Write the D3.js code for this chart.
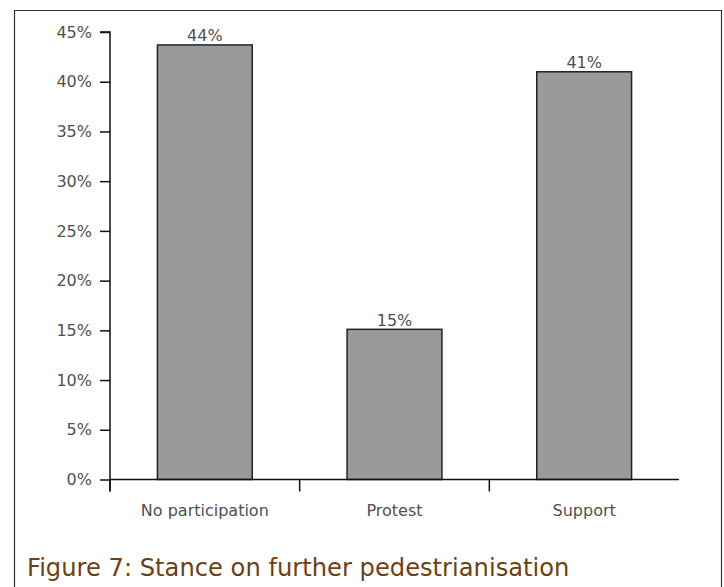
<!DOCTYPE html>
<html>
<head>
<meta charset="utf-8">
<script src="https://cdn.jsdelivr.net/npm/d3@7"></script>
<style>
  html, body { margin: 0; padding: 0; background: #fff; }
  svg { display: block; }
</style>
</head>
<body>
<script>
// Survey answers: stance on further pedestrianisation (share of respondents, %)
const categories = ["No participation", "Protest", "Support"];
const shares = [43.7, 15.1, 41.0];
const yTicks = [0, 5, 10, 15, 20, 25, 30, 35, 40, 45];
const caption = "Figure 7: Stance on further pedestrianisation";

const W = 724, H = 587;
const svg = d3.select("body").append("svg").attr("width", W).attr("height", H);

// outer frame (open at the bottom edge of the page)
svg.append("path")
  .attr("d", `M14.5,${H + 2} V10.5 H721.5 V${H + 2}`)
  .attr("fill", "none").attr("stroke", "#333").attr("stroke-width", 1.2);

const x = d3.scaleBand().domain(categories).range([110, 679]).paddingInner(0).paddingOuter(0);
const y = d3.scaleLinear().domain([0, 45]).range([479.5, 32]);

const labelFont = "'DejaVu Sans', Verdana, sans-serif";
const labelSize = "16px";
const textColor = "#505050";

// y axis
const yAxis = svg.append("g").attr("transform", "translate(110,0)")
  .call(d3.axisLeft(y).tickValues(yTicks).tickSize(10).tickPadding(8).tickFormat(d => d + "%"));
yAxis.select(".domain").attr("d", `M-10,${y(45)}H0V${y(0) + 12}`).attr("stroke", "#111").attr("stroke-width", 1.5);
yAxis.selectAll(".tick line").attr("stroke", "#111").attr("stroke-width", 1.5);
yAxis.selectAll(".tick text").attr("fill", textColor).style("font-family", labelFont).style("font-size", labelSize);

// bars
const barW = x.bandwidth() * 0.5;
svg.append("g").selectAll("rect").data(categories).join("rect")
  .attr("x", (d) => x(d) + (x.bandwidth() - barW) / 2)
  .attr("y", (d, i) => y(shares[i]))
  .attr("width", barW)
  .attr("height", (d, i) => y(0) - y(shares[i]))
  .attr("fill", "#9a9a9a").attr("stroke", "#222").attr("stroke-width", 1.5);

// x axis baseline with boundary ticks between categories
const xg = svg.append("g");
xg.append("line").attr("x1", x.range()[0]).attr("x2", x.range()[1])
  .attr("y1", y(0)).attr("y2", y(0)).attr("stroke", "#111").attr("stroke-width", 1.5);
xg.selectAll("line.sep").data(categories).join("line").attr("class", "sep")
  .attr("x1", d => x(d)).attr("x2", d => x(d))
  .attr("y1", y(0)).attr("y2", y(0) + 12)
  .attr("stroke", "#111").attr("stroke-width", 1.5);
xg.selectAll("text").data(categories).join("text")
  .attr("x", d => x(d) + x.bandwidth() / 2)
  .attr("y", 516)
  .attr("text-anchor", "middle")
  .attr("fill", textColor).style("font-family", labelFont).style("font-size", labelSize)
  .text(d => d);

// value labels above bars
const fmt = d3.format(".0f");
svg.append("g").selectAll("text").data(categories).join("text")
  .attr("x", d => x(d) + x.bandwidth() / 2)
  .attr("y", (d, i) => y(shares[i]) - 3.5)
  .attr("text-anchor", "middle")
  .attr("fill", textColor).style("font-family", labelFont).style("font-size", labelSize)
  .text((d, i) => fmt(shares[i]) + "%");

// caption
svg.append("text")
  .attr("x", 27).attr("y", 576)
  .attr("fill", "#6e3f10")
  .style("font-family", labelFont).style("font-size", "24.2px")
  .text(caption);
</script>
</body>
</html>
